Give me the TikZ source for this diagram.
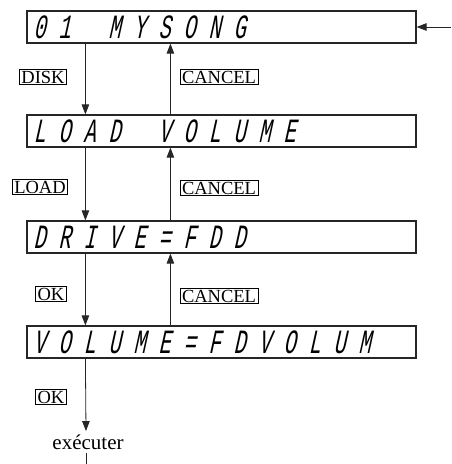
\documentclass[tikz,border=0pt]{standalone}
\usepackage{fontspec}
\setmainfont{Liberation Serif}
\newfontfamily\lcdfont[FakeSlant=0.22, FakeStretch=0.6]{Liberation Mono}
\usepackage{tikz}
\usetikzlibrary{arrows.meta, positioning, calc}

% one fixed-width cell per character, spaces kept
\ExplSyntaxOn
\NewDocumentCommand\lcdline{m}{\str_map_inline:nn {#1}{\makebox[25pt][c]{##1}}}
\ExplSyntaxOff

\begin{document}
\begin{tikzpicture}[
      x=1pt, y=-1pt,
      every node/.style={font=\fontsize{18.5}{20}\selectfont},
      screen/.style={draw=black!85, line width=1.2pt, minimum width=389pt, minimum height=32pt,
                     inner xsep=0pt, inner ysep=0pt, text width=389pt, align=left,
                     text height=23pt, text depth=0pt, font=\lcdfont\fontsize{34}{34}\selectfont},
      key/.style={draw, line width=0.7pt, inner xsep=2pt, inner ysep=1.3pt},
      arr/.style={-{Triangle[length=10pt, width=7.5pt]}, line width=0.8pt, black!85},
      link/.style={line width=0.8pt, black!85},
    ]
    \useasboundingbox (0,0) rectangle (451,464);

    % the four displays
    \node[screen] (s1) at (221.5, 27) {\lcdline{01 MYSONG}};
    \node[screen] (s2) at (221.5,131) {\lcdline{LOAD VOLUME}};
    \node[screen] (s3) at (221.5,237) {\lcdline{DRIVE=FDD}};
    \node[screen] (s4) at (221.5,342) {\lcdline{VOLUME=FDVOLUM}};

    % keys
    \node[key] (disk)    at ( 43, 77) {DISK};
    \node[key] (cancel1) at (219, 77) {CANCEL};
    \node[key] (load)    at ( 40,187) {LOAD};
    \node[key] (cancel2) at (219,188) {CANCEL};
    \node[key] (ok1)     at ( 51,294) {OK};
    \node[key] (cancel3) at (219,296) {CANCEL};
    \node[key] (ok2)     at ( 51,397) {OK};

    \node[font=\fontsize{21}{23}\selectfont] (run) at (88,442) {exécuter};
    \coordinate (entry) at (451,27);
    \coordinate (tail) at (86,464);

    \draw[arr] (entry) -- (s1.east);

    \draw[arr] ([xshift=59pt]s1.south west) -- ([xshift=59pt]s2.north west);
    \draw[arr] ([xshift=59pt]s2.south west) -- ([xshift=59pt]s3.north west);
    \draw[arr] ([xshift=59pt]s3.south west) -- ([xshift=59pt]s4.north west);
    \draw[arr] ([xshift=59pt]s4.south west) -- (run.north -| tail);

    \draw[arr] ([xshift=144pt]s2.north west) -- ([xshift=144pt]s1.south west);
    \draw[arr] ([xshift=144pt]s3.north west) -- ([xshift=144pt]s2.south west);
    \draw[arr] ([xshift=144pt]s4.north west) -- ([xshift=144pt]s3.south west);

    \draw[link] (run.south -| tail) -- (tail);
\end{tikzpicture}
\end{document}
